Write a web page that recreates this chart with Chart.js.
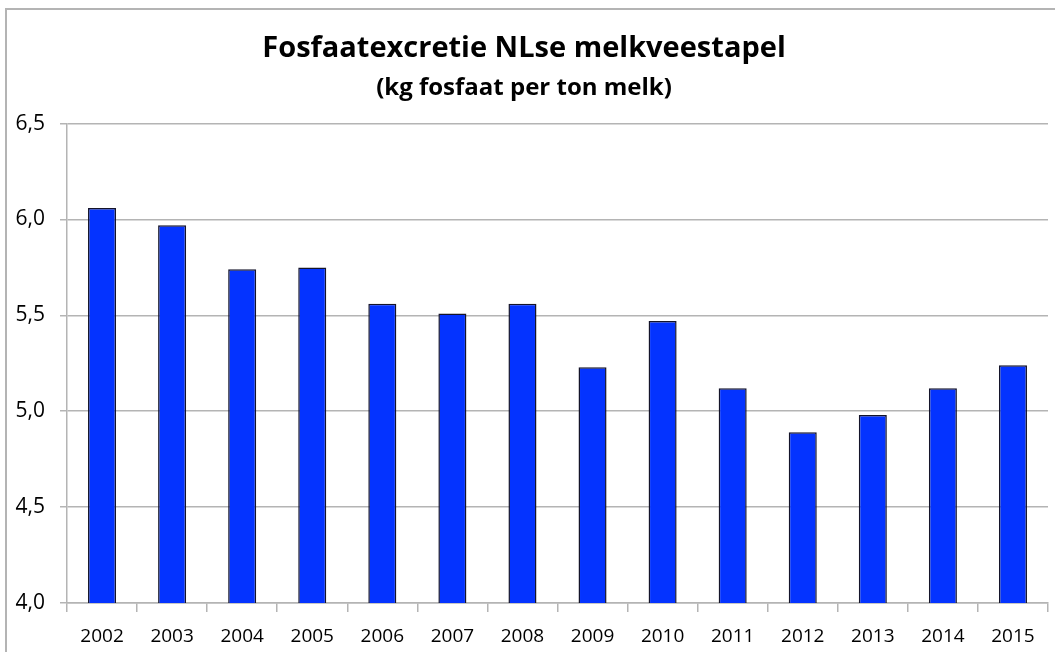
<!DOCTYPE html>
<html>
<head>
<meta charset="utf-8">
<script src="https://cdn.jsdelivr.net/npm/chart.js@4.4.0/dist/chart.umd.min.js"></script>
<style>
  html, body { margin: 0; padding: 0; background: #fff; overflow: hidden; }
  #wrap { position: relative; width: 1055px; height: 652px; }
  #frame {
    position: absolute; left: 5px; top: 8px; width: 1100px; height: 700px;
    border-left: 2px solid #b4b4b4; border-top: 2px solid #b4b4b4;
  }
  canvas { position: absolute; left: 0; top: 0; }
</style>
</head>
<body>
<div id="wrap">
  <div id="frame"></div>
  <canvas id="fosfaatChart" width="1055" height="652"></canvas>
</div>
<script>
  // data
  const years = ['2002', '2003', '2004', '2005', '2006', '2007', '2008',
                 '2009', '2010', '2011', '2012', '2013', '2014', '2015'];
  const excretion = [6.06, 5.97, 5.74, 5.75, 5.56, 5.51, 5.56,
                     5.23, 5.47, 5.12, 4.89, 4.98, 5.12, 5.24];
  const yTicks = [4.0, 4.5, 5.0, 5.5, 6.0, 6.5];

  const chartTitle = 'Fosfaatexcretie NLse melkveestapel';
  const chartSubtitle = '(kg fosfaat per ton melk)';

  const fontFamily = "'Open Sans', sans-serif";
  const gridColor = '#b4b4b4';

  var ctx = document.getElementById('fosfaatChart').getContext('2d');

  new Chart(ctx, {
    type: 'bar',
    data: {
      labels: years,
      datasets: [{
        data: excretion,
        backgroundColor: '#0433ff',
        borderColor: '#14142a',
        borderWidth: 1.5,
        categoryPercentage: 1,
        barPercentage: 0.4
      }]
    },
    options: {
      responsive: false,
      animation: false,
      layout: { padding: { left: 0, right: 7, top: 0, bottom: 0 } },
      plugins: {
        legend: { display: false },
        tooltip: { enabled: false },
        title: {
          display: true,
          text: chartTitle,
          color: '#000',
          font: { family: fontFamily, size: 29, weight: 'bold', lineHeight: 1.2 },
          padding: { top: 31, bottom: 8 }
        },
        subtitle: {
          display: true,
          text: chartSubtitle,
          color: '#000',
          font: { family: fontFamily, size: 24, weight: 'bold', lineHeight: 1.2 },
          padding: { top: 0, bottom: 21 }
        }
      },
      scales: {
        x: {
          grid: {
            display: true,
            drawOnChartArea: false,
            drawTicks: true,
            tickLength: 9,
            color: gridColor,
            lineWidth: 1.5,
            offset: true
          },
          border: { display: true, color: gridColor, width: 1.5 },
          ticks: {
            color: '#000',
            padding: 13,
            font: { family: fontFamily, size: 19 }
          },
          afterFit: function(scale) { scale.height = 49; }
        },
        y: {
          min: 4.0,
          max: 6.5,
          afterBuildTicks: function(scale) {
            scale.ticks = yTicks.map(function(v) { return { value: v }; });
          },
          grid: {
            color: gridColor,
            lineWidth: 1.5,
            tickLength: 7
          },
          border: { display: true, color: gridColor, width: 1.5 },
          ticks: {
            color: '#000',
            padding: 15,
            font: { family: fontFamily, size: 21 },
            callback: function(v) { return Number(v).toFixed(1).replace('.', ','); }
          },
          afterFit: function(scale) { scale.width = 67; }
        }
      }
    }
  });
</script>
</body>
</html>
